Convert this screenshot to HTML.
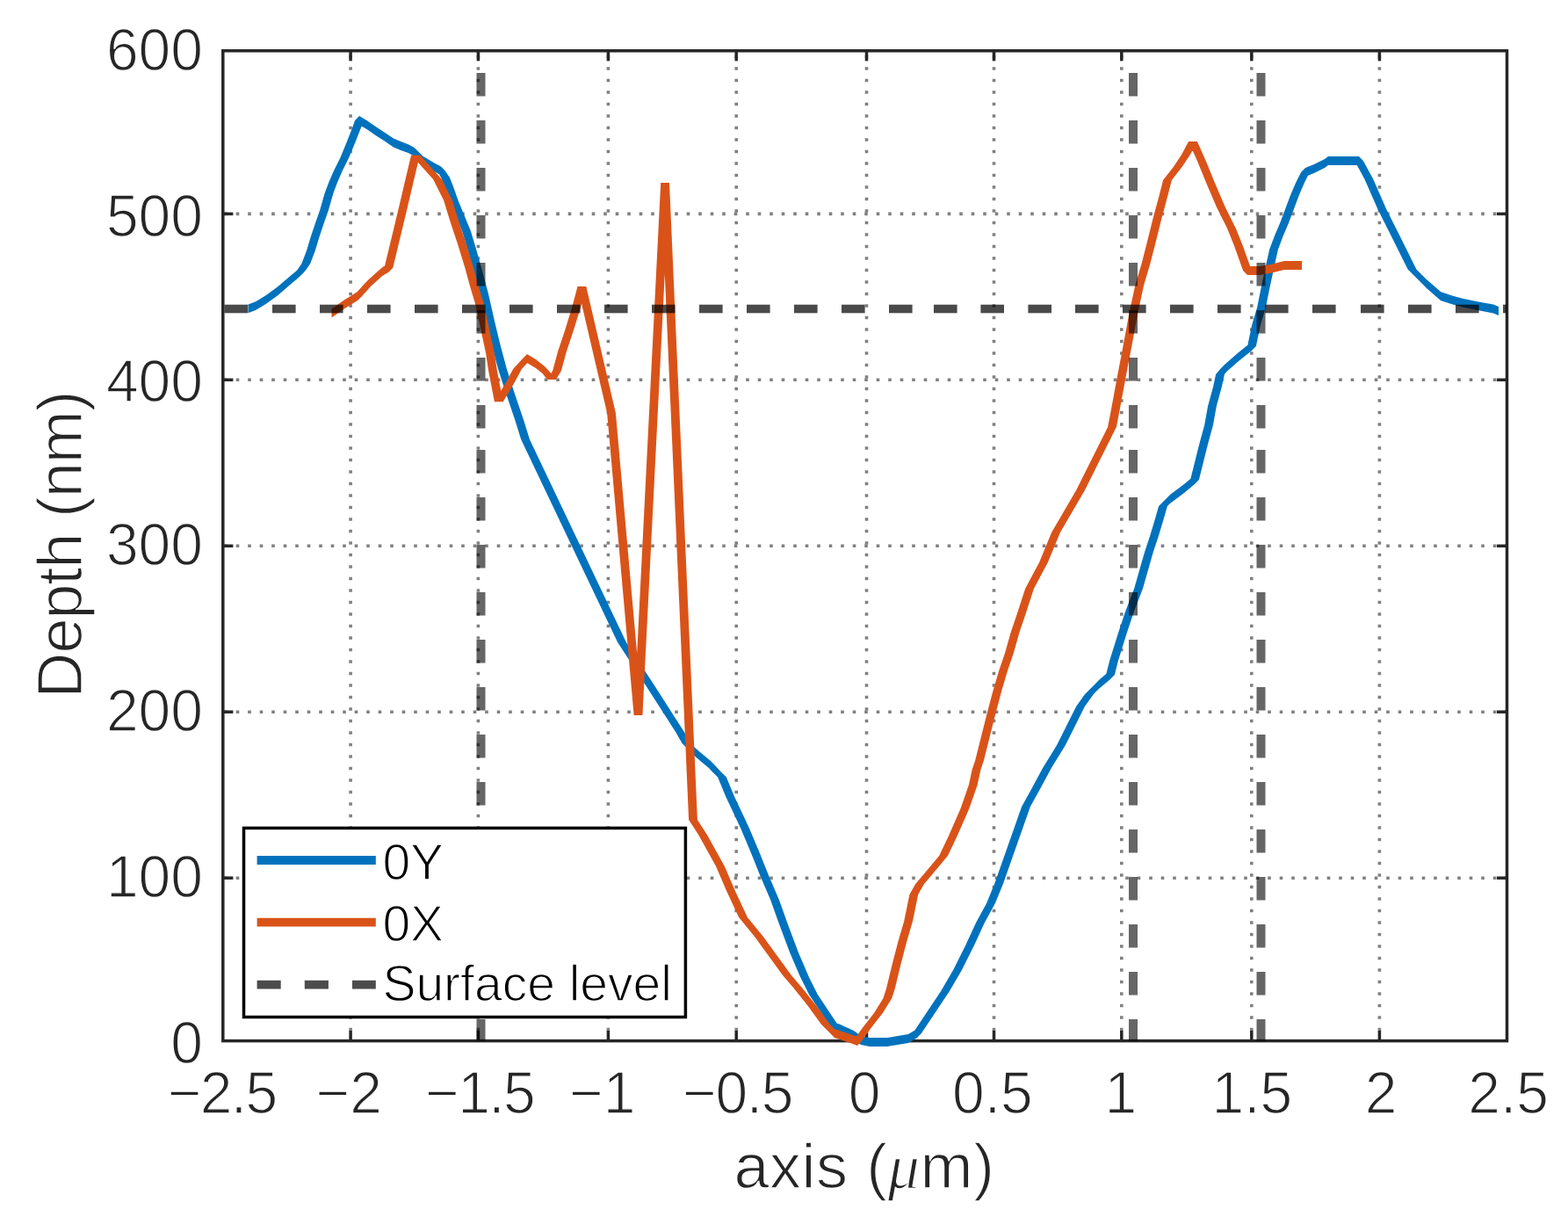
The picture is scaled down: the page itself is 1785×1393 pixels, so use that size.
<!DOCTYPE html>
<html><head><meta charset="utf-8"><title>Depth profile</title>
<style>html,body{margin:0;padding:0;background:#fff;}svg{display:block;}text{font-family:"Liberation Sans",Arial,Helvetica,sans-serif;stroke:#fff;stroke-width:1.4px;paint-order:normal;}</style></head><body>
<svg width="1785" height="1393" viewBox="0 0 1785 1393">
<rect x="0" y="0" width="1785" height="1393" fill="#fff"/>
<g stroke="#808080" stroke-width="3.6" stroke-dasharray="3.6 9.9" fill="none"><line x1="399.1" y1="62.7" x2="399.1" y2="1184.6"/><line x1="544.4" y1="62.7" x2="544.4" y2="1184.6"/><line x1="692.4" y1="62.7" x2="692.4" y2="1184.6"/><line x1="838.2" y1="62.7" x2="838.2" y2="1184.6"/><line x1="986.5" y1="62.7" x2="986.5" y2="1184.6"/><line x1="1131.5" y1="62.7" x2="1131.5" y2="1184.6"/><line x1="1276.8" y1="62.7" x2="1276.8" y2="1184.6"/><line x1="1424.8" y1="62.7" x2="1424.8" y2="1184.6"/><line x1="1570.4" y1="62.7" x2="1570.4" y2="1184.6"/><line x1="255.2" y1="999.2" x2="1715.5" y2="999.2"/><line x1="255.2" y1="810.2" x2="1715.5" y2="810.2"/><line x1="255.2" y1="621.3" x2="1715.5" y2="621.3"/><line x1="255.2" y1="432.3" x2="1715.5" y2="432.3"/><line x1="255.2" y1="243.4" x2="1715.5" y2="243.4"/></g>
<g stroke="#262626" stroke-width="3.5" fill="none" stroke-linecap="butt"><rect x="253.8" y="57.8" width="1461.7" height="1126.8" fill="none"/><line x1="399.1" y1="1184.6" x2="399.1" y2="1173"/><line x1="399.1" y1="57.8" x2="399.1" y2="69.4"/><line x1="544.4" y1="1184.6" x2="544.4" y2="1173"/><line x1="544.4" y1="57.8" x2="544.4" y2="69.4"/><line x1="692.4" y1="1184.6" x2="692.4" y2="1173"/><line x1="692.4" y1="57.8" x2="692.4" y2="69.4"/><line x1="838.2" y1="1184.6" x2="838.2" y2="1173"/><line x1="838.2" y1="57.8" x2="838.2" y2="69.4"/><line x1="986.5" y1="1184.6" x2="986.5" y2="1173"/><line x1="986.5" y1="57.8" x2="986.5" y2="69.4"/><line x1="1131.5" y1="1184.6" x2="1131.5" y2="1173"/><line x1="1131.5" y1="57.8" x2="1131.5" y2="69.4"/><line x1="1276.8" y1="1184.6" x2="1276.8" y2="1173"/><line x1="1276.8" y1="57.8" x2="1276.8" y2="69.4"/><line x1="1424.8" y1="1184.6" x2="1424.8" y2="1173"/><line x1="1424.8" y1="57.8" x2="1424.8" y2="69.4"/><line x1="1570.4" y1="1184.6" x2="1570.4" y2="1173"/><line x1="1570.4" y1="57.8" x2="1570.4" y2="69.4"/><line x1="253.8" y1="999.2" x2="265.4" y2="999.2"/><line x1="1715.5" y1="999.2" x2="1703.9" y2="999.2"/><line x1="253.8" y1="810.2" x2="265.4" y2="810.2"/><line x1="1715.5" y1="810.2" x2="1703.9" y2="810.2"/><line x1="253.8" y1="621.3" x2="265.4" y2="621.3"/><line x1="1715.5" y1="621.3" x2="1703.9" y2="621.3"/><line x1="253.8" y1="432.3" x2="265.4" y2="432.3"/><line x1="1715.5" y1="432.3" x2="1703.9" y2="432.3"/><line x1="253.8" y1="243.4" x2="265.4" y2="243.4"/><line x1="1715.5" y1="243.4" x2="1703.9" y2="243.4"/></g>
<path d="M291.0,343.3L291.0,353.1L282.5,356.2L282.5,346.4ZM302.6,336.3L302.6,346.1L291.0,353.1L291.0,343.3ZM316.5,326.1L316.5,335.9L302.6,346.1L302.6,336.3ZM328.5,315.8L328.5,325.6L316.5,335.9L316.5,326.1ZM340.1,306.0L340.1,315.8L328.5,325.6L328.5,315.8ZM338.6,307.0L348.4,307.0L345.0,310.9L335.2,310.9ZM343.4,300.0L353.2,300.0L348.4,307.0L338.6,307.0ZM349.1,285.0L358.9,285.0L353.2,300.0L343.4,300.0ZM353.6,270.0L363.4,270.0L358.9,285.0L349.1,285.0ZM358.6,255.0L368.4,255.0L363.4,270.0L353.6,270.0ZM363.9,240.0L373.7,240.0L368.4,255.0L358.6,255.0ZM369.6,220.0L379.4,220.0L373.7,240.0L363.9,240.0ZM374.1,208.0L383.9,208.0L379.4,220.0L369.6,220.0ZM379.8,194.7L389.6,194.7L383.9,208.0L374.1,208.0ZM387.5,179.2L397.3,179.2L389.6,194.7L379.8,194.7ZM394.4,162.5L404.2,162.5L397.3,179.2L387.5,179.2ZM401.0,145.8L410.8,145.8L404.2,162.5L394.4,162.5ZM404.1,137.0L413.9,137.0L410.8,145.8L401.0,145.8ZM417.5,137.1L417.5,146.9L409.0,141.9L409.0,132.1ZM427.5,144.1L427.5,153.9L417.5,146.9L417.5,137.1ZM437.8,150.7L437.8,160.5L427.5,153.9L427.5,144.1ZM447.9,157.6L447.9,167.4L437.8,160.5L437.8,150.7ZM456.2,161.1L456.2,170.9L447.9,167.4L447.9,157.6ZM464.6,164.2L464.6,174.0L456.2,170.9L456.2,161.1ZM471.3,167.7L471.3,177.5L464.6,174.0L464.6,164.2ZM466.4,172.6L476.2,172.6L485.9,182.3L476.1,182.3ZM494.0,185.3L494.0,195.1L481.0,187.2L481.0,177.4ZM502.0,189.6L502.0,199.4L494.0,195.1L494.0,185.3ZM497.1,194.5L506.9,194.5L511.9,202.0L502.1,202.0ZM502.1,202.0L511.9,202.0L515.9,212.0L506.1,212.0ZM506.1,212.0L515.9,212.0L521.9,229.0L512.1,229.0ZM512.1,229.0L521.9,229.0L528.9,246.0L519.1,246.0ZM519.1,246.0L528.9,246.0L535.9,263.0L526.1,263.0ZM526.1,263.0L535.9,263.0L541.9,283.0L532.1,283.0ZM532.1,283.0L541.9,283.0L548.9,308.0L539.1,308.0ZM539.1,308.0L548.9,308.0L555.9,334.0L546.1,334.0ZM546.1,334.0L555.9,334.0L562.9,365.0L553.1,365.0ZM553.1,365.0L562.9,365.0L568.9,390.0L559.1,390.0ZM559.1,390.0L568.9,390.0L576.9,420.0L567.1,420.0ZM567.1,420.0L576.9,420.0L584.9,445.0L575.1,445.0ZM575.1,445.0L584.9,445.0L596.4,479.0L586.6,479.0ZM586.6,479.0L596.4,479.0L602.9,500.0L593.1,500.0ZM593.1,500.0L602.9,500.0L712.9,731.0L703.1,731.0ZM703.1,731.0L712.9,731.0L744.9,780.0L735.1,780.0ZM735.1,780.0L744.9,780.0L778.9,833.0L769.1,833.0ZM769.1,833.0L778.9,833.0L786.4,846.0L776.6,846.0ZM776.6,846.0L786.4,846.0L794.4,854.3L784.6,854.3ZM798.7,857.4L798.7,867.2L789.5,859.2L789.5,849.4ZM809.0,866.0L809.0,875.8L798.7,867.2L798.7,857.4ZM804.1,870.9L813.9,870.9L820.8,878.4L811.0,878.4ZM811.0,878.4L820.8,878.4L826.9,884.5L817.1,884.5ZM817.1,884.5L826.9,884.5L836.0,906.5L826.2,906.5ZM826.2,906.5L836.0,906.5L852.7,942.0L842.9,942.0ZM842.9,942.0L852.7,942.0L864.9,971.0L855.1,971.0ZM855.1,971.0L864.9,971.0L874.9,996.0L865.1,996.0ZM865.1,996.0L874.9,996.0L886.9,1024.0L877.1,1024.0ZM877.1,1024.0L886.9,1024.0L896.9,1052.0L887.1,1052.0ZM887.1,1052.0L896.9,1052.0L908.9,1084.0L899.1,1084.0ZM899.1,1084.0L908.9,1084.0L920.9,1112.0L911.1,1112.0ZM911.1,1112.0L920.9,1112.0L930.9,1132.0L921.1,1132.0ZM921.1,1132.0L930.9,1132.0L942.9,1150.0L933.1,1150.0ZM933.1,1150.0L942.9,1150.0L954.9,1168.0L945.1,1168.0ZM972.0,1173.1L972.0,1182.9L950.0,1172.9L950.0,1163.1ZM980.0,1179.1L980.0,1188.9L972.0,1182.9L972.0,1173.1ZM990.0,1181.1L990.0,1190.9L980.0,1188.9L980.0,1179.1ZM1010.0,1181.1L1010.0,1190.9L990.0,1190.9L990.0,1181.1ZM1034.0,1177.1L1034.0,1186.9L1010.0,1190.9L1010.0,1181.1ZM1044.0,1171.1L1044.0,1180.9L1034.0,1186.9L1034.0,1177.1ZM1055.1,1152.0L1064.9,1152.0L1048.9,1176.0L1039.1,1176.0ZM1071.1,1128.0L1080.9,1128.0L1064.9,1152.0L1055.1,1152.0ZM1085.1,1104.0L1094.9,1104.0L1080.9,1128.0L1071.1,1128.0ZM1099.1,1076.0L1108.9,1076.0L1094.9,1104.0L1085.1,1104.0ZM1111.1,1050.0L1120.9,1050.0L1108.9,1076.0L1099.1,1076.0ZM1123.1,1028.0L1132.9,1028.0L1120.9,1050.0L1111.1,1050.0ZM1132.1,1006.0L1141.9,1006.0L1132.9,1028.0L1123.1,1028.0ZM1163.1,918.0L1172.9,918.0L1141.9,1006.0L1132.1,1006.0ZM1173.1,900.0L1182.9,900.0L1172.9,918.0L1163.1,918.0ZM1187.1,874.0L1196.9,874.0L1182.9,900.0L1173.1,900.0ZM1203.1,848.0L1212.9,848.0L1196.9,874.0L1187.1,874.0ZM1215.1,824.0L1224.9,824.0L1212.9,848.0L1203.1,848.0ZM1225.1,804.0L1234.9,804.0L1224.9,824.0L1215.1,824.0ZM1235.1,790.0L1244.9,790.0L1234.9,804.0L1225.1,804.0ZM1247.1,778.0L1256.9,778.0L1244.9,790.0L1235.1,790.0ZM1264.0,763.1L1264.0,772.9L1252.0,782.9L1252.0,773.1ZM1263.1,752.0L1272.9,752.0L1268.9,768.0L1259.1,768.0ZM1273.1,720.0L1282.9,720.0L1272.9,752.0L1263.1,752.0ZM1281.1,696.0L1290.9,696.0L1282.9,720.0L1273.1,720.0ZM1291.1,670.0L1300.9,670.0L1290.9,696.0L1281.1,696.0ZM1299.1,642.0L1308.9,642.0L1300.9,670.0L1291.1,670.0ZM1303.1,628.0L1312.9,628.0L1308.9,642.0L1299.1,642.0ZM1309.1,610.0L1318.9,610.0L1312.9,628.0L1303.1,628.0ZM1315.1,590.0L1324.9,590.0L1318.9,610.0L1309.1,610.0ZM1319.1,576.0L1328.9,576.0L1324.9,590.0L1315.1,590.0ZM1327.1,568.0L1336.9,568.0L1328.9,576.0L1319.1,576.0ZM1348.0,551.1L1348.0,560.9L1332.0,572.9L1332.0,563.1ZM1360.0,541.1L1360.0,550.9L1348.0,560.9L1348.0,551.1ZM1359.1,530.0L1368.9,530.0L1364.9,546.0L1355.1,546.0ZM1365.1,506.0L1374.9,506.0L1368.9,530.0L1359.1,530.0ZM1371.1,484.0L1380.9,484.0L1374.9,506.0L1365.1,506.0ZM1375.1,462.0L1384.9,462.0L1380.9,484.0L1371.1,484.0ZM1381.1,440.0L1390.9,440.0L1384.9,462.0L1375.1,462.0ZM1384.1,426.0L1393.9,426.0L1390.9,440.0L1381.1,440.0ZM1389.1,420.0L1398.9,420.0L1393.9,426.0L1384.1,426.0ZM1410.0,401.1L1410.0,410.9L1394.0,424.9L1394.0,415.1ZM1425.0,389.1L1425.0,398.9L1410.0,410.9L1410.0,401.1ZM1425.1,370.0L1434.9,370.0L1429.9,394.0L1420.1,394.0ZM1431.1,350.0L1440.9,350.0L1434.9,370.0L1425.1,370.0ZM1435.1,330.0L1444.9,330.0L1440.9,350.0L1431.1,350.0ZM1441.1,302.0L1450.9,302.0L1444.9,330.0L1435.1,330.0ZM1445.1,284.0L1454.9,284.0L1450.9,302.0L1441.1,302.0ZM1451.1,268.0L1460.9,268.0L1454.9,284.0L1445.1,284.0ZM1457.1,254.0L1466.9,254.0L1460.9,268.0L1451.1,268.0ZM1463.1,238.0L1472.9,238.0L1466.9,254.0L1457.1,254.0ZM1469.1,222.0L1478.9,222.0L1472.9,238.0L1463.1,238.0ZM1475.1,208.0L1484.9,208.0L1478.9,222.0L1469.1,222.0ZM1481.1,196.0L1490.9,196.0L1484.9,208.0L1475.1,208.0ZM1496.0,187.1L1496.0,196.9L1486.0,200.9L1486.0,191.1ZM1508.0,181.1L1508.0,190.9L1496.0,196.9L1496.0,187.1ZM1512.0,178.1L1512.0,187.9L1508.0,190.9L1508.0,181.1ZM1547.0,178.1L1547.0,187.9L1512.0,187.9L1512.0,178.1ZM1542.1,183.0L1551.9,183.0L1563.3,204.1L1553.5,204.1ZM1553.5,204.1L1563.3,204.1L1578.3,238.2L1568.5,238.2ZM1568.5,238.2L1578.3,238.2L1595.4,272.3L1585.6,272.3ZM1585.6,272.3L1595.4,272.3L1612.4,306.4L1602.6,306.4ZM1602.6,306.4L1612.4,306.4L1628.9,323.0L1619.1,323.0ZM1640.0,332.1L1640.0,341.9L1624.0,327.9L1624.0,318.1ZM1653.0,336.4L1653.0,346.2L1640.0,341.9L1640.0,332.1ZM1665.0,339.8L1665.0,349.6L1653.0,346.2L1653.0,336.4ZM1682.0,343.2L1682.0,353.0L1665.0,349.6L1665.0,339.8ZM1700.0,346.6L1700.0,356.4L1682.0,353.0L1682.0,343.2ZM1706.0,349.1L1706.0,358.9L1700.0,356.4L1700.0,346.6ZM335.2,310.9L340.1,306.0L345.0,310.9L340.1,315.8ZM404.1,137.0L409.0,132.1L413.9,137.0L409.0,141.9ZM466.4,172.6L471.3,167.7L476.2,172.6L471.3,177.5ZM476.1,182.3L481.0,177.4L485.9,182.3L481.0,187.2ZM497.1,194.5L502.0,189.6L506.9,194.5L502.0,199.4ZM784.6,854.3L789.5,849.4L794.4,854.3L789.5,859.2ZM804.1,870.9L809.0,866.0L813.9,870.9L809.0,875.8ZM945.1,1168.0L950.0,1163.1L954.9,1168.0L950.0,1172.9ZM1039.1,1176.0L1044.0,1171.1L1048.9,1176.0L1044.0,1180.9ZM1247.1,778.0L1252.0,773.1L1256.9,778.0L1252.0,782.9ZM1259.1,768.0L1264.0,763.1L1268.9,768.0L1264.0,772.9ZM1327.1,568.0L1332.0,563.1L1336.9,568.0L1332.0,572.9ZM1355.1,546.0L1360.0,541.1L1364.9,546.0L1360.0,550.9ZM1389.1,420.0L1394.0,415.1L1398.9,420.0L1394.0,424.9ZM1420.1,394.0L1425.0,389.1L1429.9,394.0L1425.0,398.9ZM1481.1,196.0L1486.0,191.1L1490.9,196.0L1486.0,200.9ZM1542.1,183.0L1547.0,178.1L1551.9,183.0L1547.0,187.9ZM1619.1,323.0L1624.0,318.1L1628.9,323.0L1624.0,327.9Z" fill="#0072BD"/>
<path d="M391.0,342.1L391.0,351.9L377.5,361.4L377.5,351.6ZM407.7,331.6L407.7,341.4L391.0,351.9L391.0,342.1ZM414.9,323.0L424.7,323.0L412.6,336.5L402.8,336.5ZM434.9,304.4L434.9,314.2L419.8,327.9L419.8,318.1ZM442.4,299.9L442.4,309.7L434.9,314.2L434.9,304.4ZM453.1,240.0L462.9,240.0L447.3,304.8L437.5,304.8ZM461.1,206.0L470.9,206.0L462.9,240.0L453.1,240.0ZM468.1,176.5L477.9,176.5L470.9,206.0L461.1,206.0ZM468.1,176.5L477.9,176.5L484.9,184.0L475.1,184.0ZM475.1,184.0L484.9,184.0L502.9,204.0L493.1,204.0ZM493.1,204.0L502.9,204.0L514.9,228.0L505.1,228.0ZM505.1,228.0L514.9,228.0L522.9,254.0L513.1,254.0ZM513.1,254.0L522.9,254.0L530.9,278.0L521.1,278.0ZM521.1,278.0L530.9,278.0L538.9,304.0L529.1,304.0ZM529.1,304.0L538.9,304.0L544.9,326.0L535.1,326.0ZM535.1,326.0L544.9,326.0L550.9,346.0L541.1,346.0ZM541.1,346.0L550.9,346.0L556.9,374.0L547.1,374.0ZM547.1,374.0L556.9,374.0L562.9,402.0L553.1,402.0ZM553.1,402.0L562.9,402.0L565.9,422.0L556.1,422.0ZM556.1,422.0L565.9,422.0L572.7,457.3L562.9,457.3ZM576.1,435.0L585.9,435.0L572.7,457.3L562.9,457.3ZM584.1,420.0L593.9,420.0L585.9,435.0L576.1,435.0ZM595.1,408.0L604.9,408.0L593.9,420.0L584.1,420.0ZM610.0,409.1L610.0,418.9L600.0,412.9L600.0,403.1ZM620.0,417.1L620.0,426.9L610.0,418.9L610.0,409.1ZM615.1,422.0L624.9,422.0L632.9,432.0L623.1,432.0ZM629.1,422.0L638.9,422.0L632.9,432.0L623.1,432.0ZM635.1,400.0L644.9,400.0L638.9,422.0L629.1,422.0ZM643.1,376.0L652.9,376.0L644.9,400.0L635.1,400.0ZM651.1,350.0L660.9,350.0L652.9,376.0L643.1,376.0ZM657.5,326.0L667.3,326.0L660.9,350.0L651.1,350.0ZM657.5,326.0L667.3,326.0L700.9,470.0L691.1,470.0ZM691.1,470.0L700.9,470.0L731.4,814.0L721.6,814.0ZM752.2,208.0L762.0,208.0L731.4,814.0L721.6,814.0ZM752.2,208.0L762.0,208.0L793.9,933.0L784.1,933.0ZM784.1,933.0L793.9,933.0L804.9,950.0L795.1,950.0ZM795.1,950.0L804.9,950.0L824.9,986.0L815.1,986.0ZM815.1,986.0L824.9,986.0L836.9,1014.0L827.1,1014.0ZM827.1,1014.0L836.9,1014.0L850.9,1044.0L841.1,1044.0ZM841.1,1044.0L850.9,1044.0L868.9,1066.0L859.1,1066.0ZM859.1,1066.0L868.9,1066.0L884.9,1088.0L875.1,1088.0ZM875.1,1088.0L884.9,1088.0L900.9,1110.0L891.1,1110.0ZM891.1,1110.0L900.9,1110.0L912.9,1124.0L903.1,1124.0ZM903.1,1124.0L912.9,1124.0L928.9,1144.0L919.1,1144.0ZM919.1,1144.0L928.9,1144.0L944.9,1166.0L935.1,1166.0ZM935.1,1166.0L944.9,1166.0L954.9,1176.0L945.1,1176.0ZM968.0,1177.1L968.0,1186.9L950.0,1180.9L950.0,1171.1ZM976.0,1180.1L976.0,1189.9L968.0,1186.9L968.0,1177.1ZM981.7,1170.0L991.5,1170.0L980.9,1185.0L971.1,1185.0ZM995.0,1153.0L1004.8,1153.0L991.5,1170.0L981.7,1170.0ZM1005.5,1136.0L1015.3,1136.0L1004.8,1153.0L995.0,1153.0ZM1009.0,1125.0L1018.8,1125.0L1015.3,1136.0L1005.5,1136.0ZM1015.3,1099.0L1025.1,1099.0L1018.8,1125.0L1009.0,1125.0ZM1022.3,1072.0L1032.1,1072.0L1025.1,1099.0L1015.3,1099.0ZM1029.3,1048.0L1039.1,1048.0L1032.1,1072.0L1022.3,1072.0ZM1035.4,1018.0L1045.2,1018.0L1039.1,1048.0L1029.3,1048.0ZM1042.2,1006.0L1052.0,1006.0L1045.2,1018.0L1035.4,1018.0ZM1049.0,998.0L1058.8,998.0L1052.0,1006.0L1042.2,1006.0ZM1059.1,986.0L1068.9,986.0L1058.8,998.0L1049.0,998.0ZM1069.1,974.0L1078.9,974.0L1068.9,986.0L1059.1,986.0ZM1079.6,952.0L1089.4,952.0L1078.9,974.0L1069.1,974.0ZM1086.6,936.0L1096.4,936.0L1089.4,952.0L1079.6,952.0ZM1093.2,921.0L1103.0,921.0L1096.4,936.0L1086.6,936.0ZM1096.5,911.8L1106.3,911.8L1103.0,921.0L1093.2,921.0ZM1102.9,893.3L1112.7,893.3L1106.3,911.8L1096.5,911.8ZM1106.6,876.0L1116.4,876.0L1112.7,893.3L1102.9,893.3ZM1110.0,866.0L1119.8,866.0L1116.4,876.0L1106.6,876.0ZM1116.8,839.0L1126.6,839.0L1119.8,866.0L1110.0,866.0ZM1123.6,812.0L1133.4,812.0L1126.6,839.0L1116.8,839.0ZM1130.5,786.0L1140.3,786.0L1133.4,812.0L1123.6,812.0ZM1137.3,763.0L1147.1,763.0L1140.3,786.0L1130.5,786.0ZM1144.1,743.0L1153.9,743.0L1147.1,763.0L1137.3,763.0ZM1150.9,719.0L1160.7,719.0L1153.9,743.0L1144.1,743.0ZM1157.7,699.0L1167.5,699.0L1160.7,719.0L1150.9,719.0ZM1167.1,670.0L1176.9,670.0L1167.5,699.0L1157.7,699.0ZM1183.1,640.0L1192.9,640.0L1176.9,670.0L1167.1,670.0ZM1197.1,606.0L1206.9,606.0L1192.9,640.0L1183.1,640.0ZM1211.1,582.0L1220.9,582.0L1206.9,606.0L1197.1,606.0ZM1225.1,558.0L1234.9,558.0L1220.9,582.0L1211.1,582.0ZM1237.1,534.0L1246.9,534.0L1234.9,558.0L1225.1,558.0ZM1249.1,510.0L1258.9,510.0L1246.9,534.0L1237.1,534.0ZM1257.1,494.0L1266.9,494.0L1258.9,510.0L1249.1,510.0ZM1261.1,486.0L1270.9,486.0L1266.9,494.0L1257.1,494.0ZM1265.0,465.8L1274.8,465.8L1270.9,486.0L1261.1,486.0ZM1271.8,429.0L1281.6,429.0L1274.8,465.8L1265.0,465.8ZM1278.6,393.6L1288.4,393.6L1281.6,429.0L1271.8,429.0ZM1285.4,356.8L1295.2,356.8L1288.4,393.6L1278.6,393.6ZM1292.2,325.1L1302.0,325.1L1295.2,356.8L1285.4,356.8ZM1299.6,300.0L1309.4,300.0L1302.0,325.1L1292.2,325.1ZM1305.5,276.9L1315.3,276.9L1309.4,300.0L1299.6,300.0ZM1312.2,250.1L1322.0,250.1L1315.3,276.9L1305.5,276.9ZM1319.5,222.9L1329.3,222.9L1322.0,250.1L1312.2,250.1ZM1324.1,205.0L1333.9,205.0L1329.3,222.9L1319.5,222.9ZM1336.0,189.7L1345.8,189.7L1333.9,205.0L1324.1,205.0ZM1345.1,176.0L1354.9,176.0L1345.8,189.7L1336.0,189.7ZM1353.1,161.0L1362.9,161.0L1354.9,176.0L1345.1,176.0ZM1353.1,161.0L1362.9,161.0L1372.9,183.5L1363.1,183.5ZM1363.1,183.5L1372.9,183.5L1382.9,208.0L1373.1,208.0ZM1373.1,208.0L1382.9,208.0L1394.9,236.0L1385.1,236.0ZM1385.1,236.0L1394.9,236.0L1406.9,260.0L1397.1,260.0ZM1397.1,260.0L1406.9,260.0L1414.9,280.0L1405.1,280.0ZM1405.1,280.0L1414.9,280.0L1424.9,308.0L1415.1,308.0ZM1434.0,303.1L1434.0,312.9L1420.0,312.9L1420.0,303.1ZM1446.0,301.1L1446.0,310.9L1434.0,312.9L1434.0,303.1ZM1462.0,297.1L1462.0,306.9L1446.0,310.9L1446.0,301.1ZM1482.0,297.1L1482.0,306.9L1462.0,306.9L1462.0,297.1ZM402.8,336.5L407.7,331.6L412.6,336.5L407.7,341.4ZM414.9,323.0L419.8,318.1L424.7,323.0L419.8,327.9ZM437.5,304.8L442.4,299.9L447.3,304.8L442.4,309.7ZM595.1,408.0L600.0,403.1L604.9,408.0L600.0,412.9ZM615.1,422.0L620.0,417.1L624.9,422.0L620.0,426.9ZM945.1,1176.0L950.0,1171.1L954.9,1176.0L950.0,1180.9ZM971.1,1185.0L976.0,1180.1L980.9,1185.0L976.0,1189.9ZM1415.1,308.0L1420.0,303.1L1424.9,308.0L1420.0,312.9Z" fill="#D95319"/>
<g fill="#000" fill-opacity="0.6"><rect x="542.5" y="83" width="10" height="26.5"/><rect x="542.5" y="137" width="10" height="26.5"/><rect x="542.5" y="191" width="10" height="26.5"/><rect x="542.5" y="245" width="10" height="26.5"/><rect x="542.5" y="299" width="10" height="26.5"/><rect x="542.5" y="353" width="10" height="26.5"/><rect x="542.5" y="407" width="10" height="26.5"/><rect x="542.5" y="461" width="10" height="26.5"/><rect x="542.5" y="512" width="10" height="26.5"/><rect x="542.5" y="566" width="10" height="26.5"/><rect x="542.5" y="620" width="10" height="26.5"/><rect x="542.5" y="674" width="10" height="26.5"/><rect x="542.5" y="728" width="10" height="26.5"/><rect x="542.5" y="782" width="10" height="26.5"/><rect x="542.5" y="836" width="10" height="26.5"/><rect x="542.5" y="890" width="10" height="26.5"/><rect x="542.5" y="944" width="10" height="26.5"/><rect x="542.5" y="998" width="10" height="26.5"/><rect x="542.5" y="1052" width="10" height="26.5"/><rect x="542.5" y="1106" width="10" height="26.5"/><rect x="542.5" y="1160" width="10" height="24.6"/><rect x="1285.0" y="83" width="10" height="26.5"/><rect x="1285.0" y="137" width="10" height="26.5"/><rect x="1285.0" y="191" width="10" height="26.5"/><rect x="1285.0" y="245" width="10" height="26.5"/><rect x="1285.0" y="299" width="10" height="26.5"/><rect x="1285.0" y="353" width="10" height="26.5"/><rect x="1285.0" y="407" width="10" height="26.5"/><rect x="1285.0" y="461" width="10" height="26.5"/><rect x="1285.0" y="512" width="10" height="26.5"/><rect x="1285.0" y="566" width="10" height="26.5"/><rect x="1285.0" y="620" width="10" height="26.5"/><rect x="1285.0" y="674" width="10" height="26.5"/><rect x="1285.0" y="728" width="10" height="26.5"/><rect x="1285.0" y="782" width="10" height="26.5"/><rect x="1285.0" y="836" width="10" height="26.5"/><rect x="1285.0" y="890" width="10" height="26.5"/><rect x="1285.0" y="944" width="10" height="26.5"/><rect x="1285.0" y="998" width="10" height="26.5"/><rect x="1285.0" y="1052" width="10" height="26.5"/><rect x="1285.0" y="1106" width="10" height="26.5"/><rect x="1285.0" y="1160" width="10" height="24.6"/><rect x="1430.5" y="83" width="10" height="26.5"/><rect x="1430.5" y="137" width="10" height="26.5"/><rect x="1430.5" y="191" width="10" height="26.5"/><rect x="1430.5" y="245" width="10" height="26.5"/><rect x="1430.5" y="299" width="10" height="26.5"/><rect x="1430.5" y="353" width="10" height="26.5"/><rect x="1430.5" y="407" width="10" height="26.5"/><rect x="1430.5" y="461" width="10" height="26.5"/><rect x="1430.5" y="512" width="10" height="26.5"/><rect x="1430.5" y="566" width="10" height="26.5"/><rect x="1430.5" y="620" width="10" height="26.5"/><rect x="1430.5" y="674" width="10" height="26.5"/><rect x="1430.5" y="728" width="10" height="26.5"/><rect x="1430.5" y="782" width="10" height="26.5"/><rect x="1430.5" y="836" width="10" height="26.5"/><rect x="1430.5" y="890" width="10" height="26.5"/><rect x="1430.5" y="944" width="10" height="26.5"/><rect x="1430.5" y="998" width="10" height="26.5"/><rect x="1430.5" y="1052" width="10" height="26.5"/><rect x="1430.5" y="1106" width="10" height="26.5"/><rect x="1430.5" y="1160" width="10" height="24.6"/></g>
<g fill="#000" fill-opacity="0.71"><rect x="255.5" y="346.7" width="26.6" height="9.6"/><rect x="310" y="346.7" width="26.6" height="9.6"/><rect x="364" y="346.7" width="26.6" height="9.6"/><rect x="418" y="346.7" width="26.6" height="9.6"/><rect x="472" y="346.7" width="26.6" height="9.6"/><rect x="526" y="346.7" width="26.6" height="9.6"/><rect x="580" y="346.7" width="26.6" height="9.6"/><rect x="634" y="346.7" width="26.6" height="9.6"/><rect x="688" y="346.7" width="26.6" height="9.6"/><rect x="742" y="346.7" width="26.6" height="9.6"/><rect x="796" y="346.7" width="26.6" height="9.6"/><rect x="850" y="346.7" width="26.6" height="9.6"/><rect x="904" y="346.7" width="26.6" height="9.6"/><rect x="958" y="346.7" width="26.6" height="9.6"/><rect x="1012" y="346.7" width="26.6" height="9.6"/><rect x="1063" y="346.7" width="26.6" height="9.6"/><rect x="1116.4" y="346.7" width="26.6" height="9.6"/><rect x="1170.4" y="346.7" width="26.6" height="9.6"/><rect x="1224" y="346.7" width="26.6" height="9.6"/><rect x="1278" y="346.7" width="26.6" height="9.6"/><rect x="1332" y="346.7" width="26.6" height="9.6"/><rect x="1386" y="346.7" width="26.6" height="9.6"/><rect x="1440" y="346.7" width="26.6" height="9.6"/><rect x="1494" y="346.7" width="26.6" height="9.6"/><rect x="1549" y="346.7" width="26.6" height="9.6"/><rect x="1603" y="346.7" width="26.6" height="9.6"/><rect x="1657" y="346.7" width="26.6" height="9.6"/><rect x="1711" y="346.7" width="4.0" height="9.6"/></g>
<g font-size="66" fill="#262626"><text transform="translate(253.6 1267.3) scale(1 1.035)" text-anchor="middle" textLength="125.3">−2.5</text><text transform="translate(397.3 1267.3) scale(1 1.035)" text-anchor="middle">−2</text><text transform="translate(547 1267.3) scale(1 1.035)" text-anchor="middle" textLength="125.3">−1.5</text><text transform="translate(685.9 1267.3) scale(1 1.035)" text-anchor="middle">−1</text><text transform="translate(840.4 1267.3) scale(1 1.035)" text-anchor="middle" textLength="126.3">−0.5</text><text transform="translate(984.1 1267.3) scale(1 1.035)" text-anchor="middle">0</text><text transform="translate(1129.8 1267.3) scale(1 1.035)" text-anchor="middle">0.5</text><text transform="translate(1275.9 1267.3) scale(1 1.035)" text-anchor="middle">1</text><text transform="translate(1425.4 1267.3) scale(1 1.035)" text-anchor="middle">1.5</text><text transform="translate(1572.2 1267.3) scale(1 1.035)" text-anchor="middle">2</text><text transform="translate(1717.1 1267.3) scale(1 1.035)" text-anchor="middle">2.5</text><text transform="translate(231 1210) scale(1 1.035)" text-anchor="end">0</text><text transform="translate(231 1021.1) scale(1 1.035)" text-anchor="end">100</text><text transform="translate(231 831.8) scale(1 1.035)" text-anchor="end">200</text><text transform="translate(231 643.1) scale(1 1.035)" text-anchor="end">300</text><text transform="translate(231 457.4) scale(1 1.035)" text-anchor="end">400</text><text transform="translate(231 269) scale(1 1.035)" text-anchor="end">500</text><text transform="translate(231 79.6) scale(1 1.035)" text-anchor="end">600</text></g>
<text x="983.7" y="1351.5" font-size="72" fill="#262626" text-anchor="middle" textLength="296.6">axis (<tspan font-family="Liberation Serif" font-style="italic">μ</tspan>m)</text>
<text transform="translate(93 619.4) rotate(-90)" font-size="72" fill="#262626" text-anchor="middle" textLength="350">Depth (nm)</text>
<rect x="277.5" y="942.4" width="502.9" height="215.1" fill="#fff" stroke="#000" stroke-width="3.5"/><line x1="292.6" y1="979" x2="427.8" y2="979" stroke="#0072BD" stroke-width="9.8"/><line x1="292.6" y1="1049.7" x2="427.8" y2="1049.7" stroke="#D95319" stroke-width="9.8"/><line x1="292.6" y1="1120.6" x2="427.8" y2="1120.6" stroke="#000" stroke-opacity="0.7" stroke-width="9.8" stroke-dasharray="27.1 27.1"/><g font-size="57" fill="#000"><text x="435.4" y="1000.5">0Y</text><text x="435.4" y="1071.2">0X</text><text x="435.4" y="1138.8">Surface level</text></g>
</svg></body></html>
